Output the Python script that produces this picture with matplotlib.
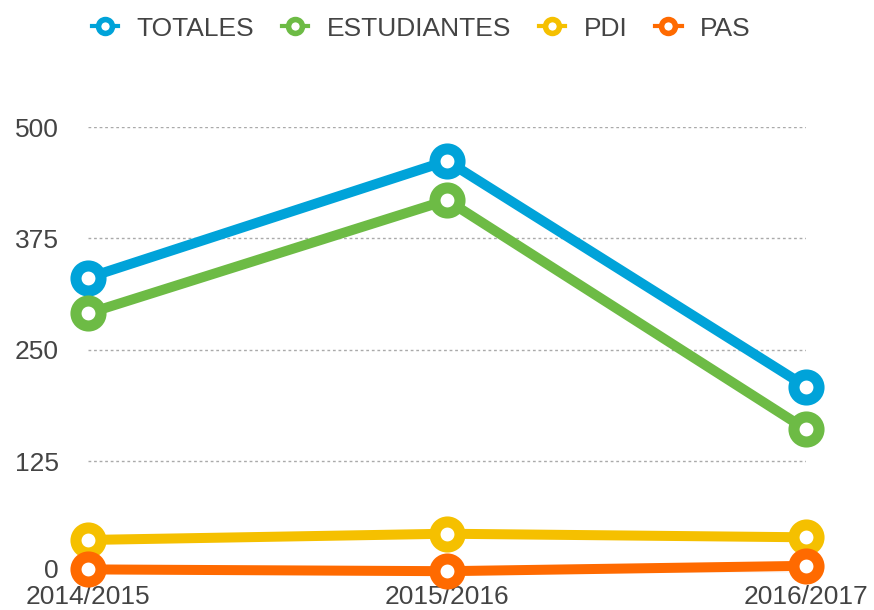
import matplotlib.pyplot as plt
from matplotlib.lines import Line2D
from matplotlib.transforms import ScaledTranslation

plt.rcParams['font.family'] = ['Liberation Sans', 'DejaVu Sans']

years = ['2014/2015', '2015/2016', '2016/2017']
totales = [331, 462, 209]
estudiantes = [291, 418, 161]
pdi = [37, 44, 40]
pas = [4, 2, 8]
yticks = [0, 125, 250, 375, 500]

series = [('TOTALES', totales, '#00A3D9'),
          ('ESTUDIANTES', estudiantes, '#6DBB45'),
          ('PDI', pdi, '#F5C000'),
          ('PAS', pas, '#FF6A00')]

fig = plt.figure(figsize=(8.74, 6.10), dpi=100)
ax = fig.add_axes([0.1007, 0.0607, 0.8215, 0.7311])

x = list(range(len(years)))
for label, vals, color in series:
    ax.plot(x, vals, color=color, lw=7.2, marker='o', ms=18, mew=8,
            mfc='white', mec=color, solid_capstyle='round', clip_on=False,
            zorder=3)

ax.set_xlim(0, len(years) - 1)
ax.set_ylim(0, 500)
ax.set_yticks(yticks)
ax.set_yticklabels([str(v) for v in yticks])
ax.set_xticks(x)
ax.set_xticklabels(years)
for v in yticks[1:]:
    ax.axhline(v, color='#aaaaaa', lw=1, ls=(0, (2, 2)), zorder=1)
ax.axhline(0, color='#dddddd', lw=1, zorder=1)

for s in ax.spines.values():
    s.set_visible(False)
ax.tick_params(length=0, labelsize=19, colors='#444444')
ax.tick_params(axis='y', pad=21)
ax.tick_params(axis='x', pad=9)

# nudge the "0" label up a little so it clears the first year label
zero = ax.get_yticklabels()[0]
zero.set_transform(zero.get_transform() + ScaledTranslation(0, 3 / 72, fig.dpi_scale_trans))

handles = [Line2D([0], [0], color=c, lw=3, marker='o', ms=10, mew=4,
                  mfc='white', mec=c) for _, _, c in series]
fig.legend(handles, [s[0] for s in series], loc='center',
           bbox_to_anchor=(0.482, 0.953), ncol=4, frameon=False,
           fontsize=19, labelcolor='#444444', handlelength=1.0,
           handletextpad=0.7, columnspacing=1.05)

fig.savefig('out.png', dpi=100)
